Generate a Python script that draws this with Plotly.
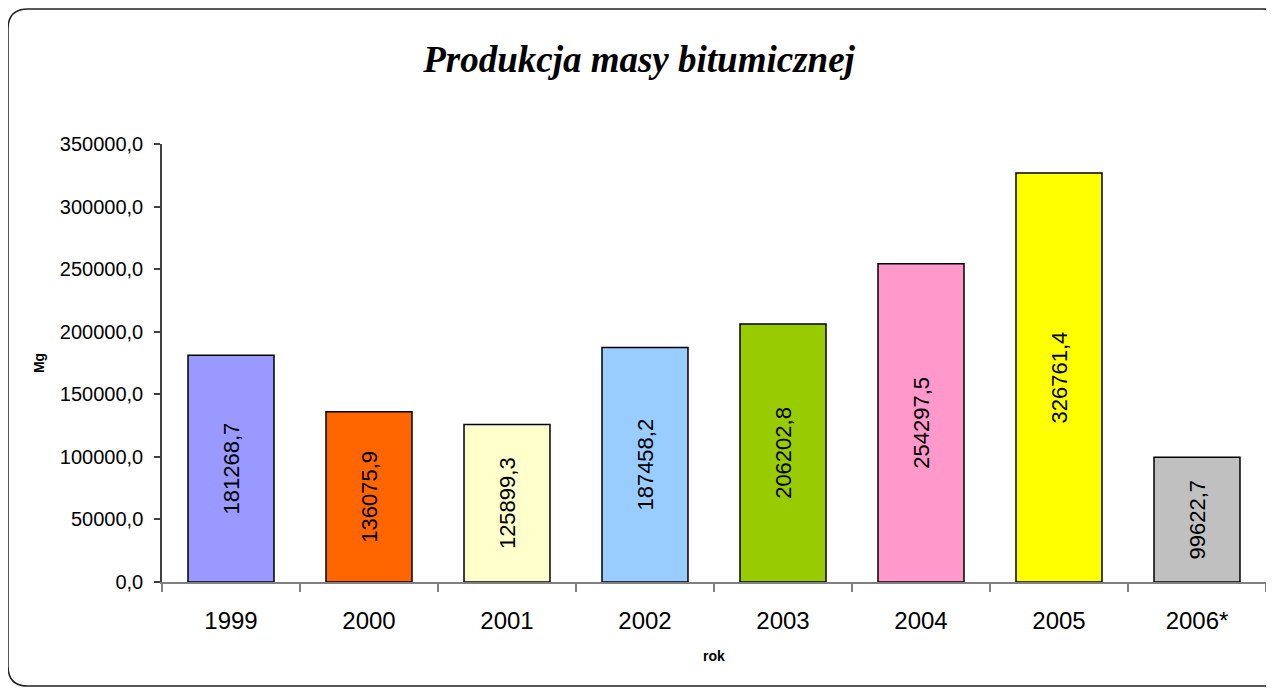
import plotly.graph_objects as go

years = ["1999", "2000", "2001", "2002", "2003", "2004", "2005", "2006*"]
production_mg = [181268.7, 136075.9, 125899.3, 187458.2, 206202.8, 254297.5, 326761.4, 99622.7]
bar_colors = ["#9999FF", "#FF6600", "#FFFFCC", "#99CCFF", "#99CC00", "#FF99CC", "#FFFF00", "#C0C0C0"]
y_ticks = [0, 50000, 100000, 150000, 200000, 250000, 300000, 350000]

# page has an 8px body margin, so figure coords = screen coords - 8
OFF = 8
W, H = 1274, 688
L, R, T, B = 162 - OFF, W - (1266 - OFF), 144 - OFF, H - (582 - OFF)
PW, PH = W - L - R, H - T - B


def px(x, y):
    # screen pixel -> paper coords
    x -= OFF
    y -= OFF
    return (x - L) / PW, (H - B - y) / PH


def rounded_rect(x0, y0, x1, y1, r):
    def P(x, y):
        a, b = px(x, y)
        return f"{a:.5f},{b:.5f}"
    d = f"M {P(x0 + r, y0)} L {P(x1 - r, y0)} Q {P(x1, y0)} {P(x1, y0 + r)} "
    d += f"L {P(x1, y1 - r)} Q {P(x1, y1)} {P(x1 - r, y1)} "
    d += f"L {P(x0 + r, y1)} Q {P(x0, y1)} {P(x0, y1 - r)} "
    d += f"L {P(x0, y0 + r)} Q {P(x0, y0)} {P(x0 + r, y0)} Z"
    return d


fig = go.Figure(
    go.Bar(
        x=years,
        y=production_mg,
        marker=dict(color=bar_colors, line=dict(color="black", width=1.5)),
        texttemplate="%{y:.1f}",
        textposition="inside",
        insidetextanchor="middle",
        textangle=-90,
        textfont=dict(family="Liberation Sans, Arial, sans-serif", size=22, color="black"),
        constraintext="none",
        cliponaxis=False,
    )
)

fig.update_layout(
    width=W,
    height=H,
    margin=dict(l=L, r=R, t=T, b=B),
    paper_bgcolor="white",
    plot_bgcolor="white",
    separators=", ",
    bargap=0.377,
    showlegend=False,
    font=dict(family="Liberation Sans, Arial, sans-serif", color="black"),
    title=dict(
        text="<b><i>Produkcja masy bitumicznej</i></b>",
        font=dict(family="Liberation Serif, serif", size=37, color="black"),
        x=(639 - OFF) / W,
        xanchor="center",
        y=1 - (59 - OFF) / H,
        yanchor="middle",
    ),
    xaxis=dict(
        showline=True,
        linecolor="#808080",
        linewidth=1.5,
        ticks="outside",
        tickson="boundaries",
        ticklen=8,
        tickcolor="#808080",
        tickwidth=1.5,
        tickfont=dict(size=24),
        ticklabelstandoff=16,
        showgrid=False,
        title=dict(text="<b>rok</b>", font=dict(size=14), standoff=19),
    ),
    yaxis=dict(
        range=[0, 350000],
        tickvals=y_ticks,
        tickformat=".1f",
        showline=True,
        linecolor="#404040",
        linewidth=1.5,
        ticks="outside",
        ticklen=6,
        tickcolor="#404040",
        tickwidth=1.5,
        tickfont=dict(size=20),
        ticklabelstandoff=7,
        showgrid=False,
        zeroline=False,
        title=dict(text="<b>Mg</b>", font=dict(size=14), standoff=12),
    ),
    shapes=[
        dict(
            type="path",
            xref="paper",
            yref="paper",
            path=rounded_rect(8, 9, 1283, 686, 20),
            line=dict(color="#222222", width=1.5),
            fillcolor="rgba(0,0,0,0)",
            layer="below",
        )
    ],
)

fig.write_html("out.html")
